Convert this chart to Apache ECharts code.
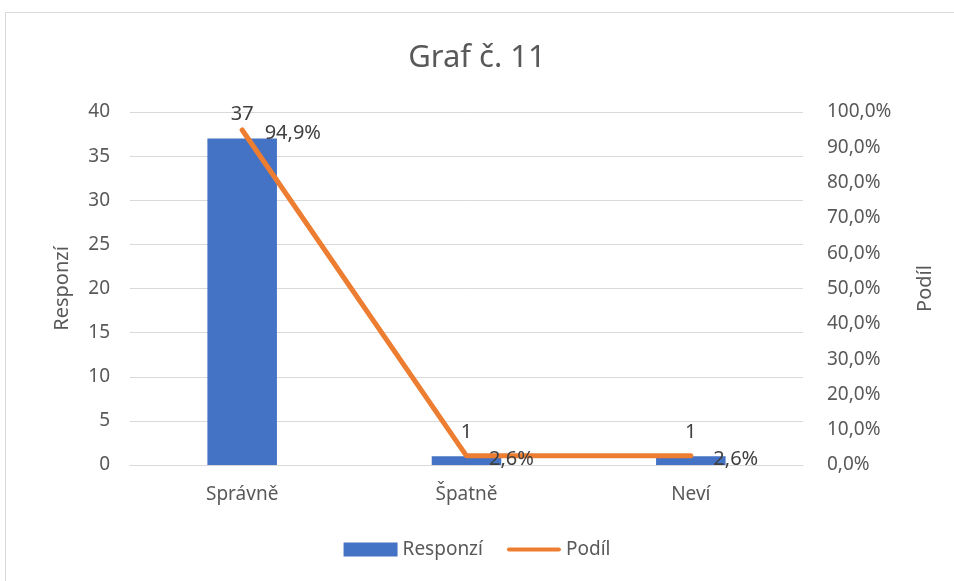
<!DOCTYPE html>
<html>
<head>
<meta charset="utf-8">
<script src="https://cdn.jsdelivr.net/npm/echarts@6/dist/echarts.min.js"></script>
<style>
  html, body { margin: 0; padding: 0; background: #fff; overflow: hidden; }
  #frame { position: absolute; left: 5px; top: 12px; width: 980px; height: 600px; border: 1px solid #d9d9d9; }
  #chart { position: absolute; left: 0; top: 0; width: 954px; height: 581px; }
</style>
</head>
<body>
<div id="frame"></div>
<div id="chart"></div>
<script>
var categories = ['Správně', 'Špatně', 'Neví'];
var responses = [37, 1, 1];
var shares = [94.9, 2.6, 2.6];

var textColor = '#595959';
var font = '"Noto Sans", "Open Sans", sans-serif';

function pct(v) {
  return v.toFixed(1).replace('.', ',') + '%';
}

var chart = echarts.init(document.getElementById('chart'));
chart.setOption({
  animation: false,
  textStyle: { fontFamily: font, color: textColor },
  title: {
    text: 'Graf č. 11',
    left: 'center',
    top: 38,
    textStyle: { fontFamily: font, fontSize: 31, fontWeight: 'normal', color: textColor }
  },
  legend: {
    bottom: 17,
    left: 'center',
    itemWidth: 54,
    itemHeight: 14,
    itemGap: 24,
    textStyle: { fontFamily: font, fontSize: 19, color: textColor },
    data: [
      { name: 'Responzí', icon: 'rect' },
      { name: 'Podíl', icon: 'path://M0,0 M54,14 M2,5 L52,5 A2,2,0,0,1,52,9 L2,9 A2,2,0,0,1,2,5 Z' }
    ]
  },
  grid: { left: 130, right: 151, top: 112, bottom: 116 },
  xAxis: {
    type: 'category',
    data: categories,
    axisTick: { show: false },
    axisLine: { lineStyle: { color: '#d9d9d9', width: 1 } },
    axisLabel: { fontSize: 19, color: textColor, margin: 20 }
  },
  yAxis: [
    {
      type: 'value',
      min: 0, max: 40, interval: 5,
      name: 'Responzí',
      nameLocation: 'middle',
      nameGap: 58,
      nameTextStyle: { fontSize: 20, color: textColor },
      axisLine: { show: false },
      axisTick: { show: false },
      axisLabel: { fontSize: 19, color: textColor, margin: 20 },
      splitLine: { lineStyle: { color: '#d9d9d9', width: 1 } }
    },
    {
      type: 'value',
      min: 0, max: 100, interval: 10,
      name: 'Podíl',
      nameLocation: 'middle',
      nameGap: 112,
      nameRotate: 90,
      nameTextStyle: { fontSize: 20, color: textColor },
      axisLine: { show: false },
      axisTick: { show: false },
      axisLabel: { fontSize: 19, color: textColor, margin: 24, formatter: function (v) { return pct(v); } },
      splitLine: { show: false }
    }
  ],
  series: [
    {
      name: 'Responzí',
      type: 'bar',
      data: responses,
      barWidth: '31%',
      itemStyle: { color: '#4472C4' },
      label: { show: true, position: 'top', distance: 14, fontSize: 20, color: '#404040' }
    },
    {
      name: 'Podíl',
      type: 'line',
      yAxisIndex: 1,
      data: shares,
      symbol: 'circle',
      symbolSize: 1,
      showSymbol: true,
      lineStyle: { color: '#ED7D31', width: 5, cap: 'round', join: 'round' },
      itemStyle: { color: '#ED7D31' },
      label: { show: true, position: 'right', distance: 22, offset: [0, 3], fontSize: 20, color: '#404040', formatter: function (p) { return pct(p.value); } }
    }
  ]
});
</script>
</body>
</html>
